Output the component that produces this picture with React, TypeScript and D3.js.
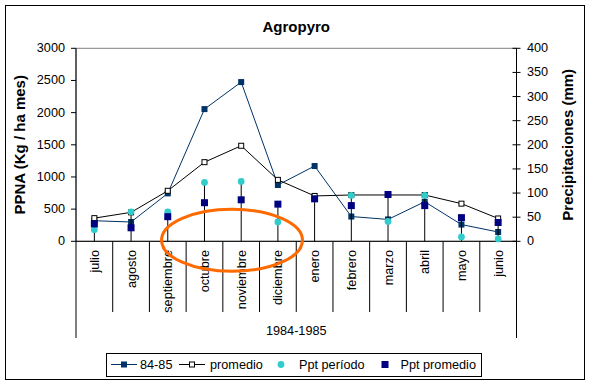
import React from 'react';
import * as d3 from 'd3';

const months = ['julio', 'agosto', 'septiembre', 'octubre', 'noviembre', 'diciembre', 'enero', 'febrero', 'marzo', 'abril', 'mayo', 'junio'];
const ppna8485 = [320, 300, 745, 2055, 2475, 875, 1170, 385, 340, 615, 260, 145];
const ppnaPromedio = [360, 450, 785, 1230, 1485, 955, 705, 720, 720, 720, 585, 355];
const pptPeriodo = [24, 61, 61, 122, 124, 40, 88, 95, 41, 95, 9, 5];
const pptPromedio = [36, 28, 51, 80, 86, 77, 88, 74, 97, 74, 49, 39];
const leftTicks = [0, 500, 1000, 1500, 2000, 2500, 3000];
const rightTicks = [0, 50, 100, 150, 200, 250, 300, 350, 400];
const groupLabel = '1984-1985';

const W = 591;
const H = 386;
const font = "Arial, 'Liberation Sans', sans-serif";
const C8485 = '#003366';
const CPeriodo = '#33CCCC';
const CPromedio = '#000080';

const App = () => {
  const left = 76;
  const right = 516.5;
  const top = 48.3;
  const bottom = 241.3;

  const x = d3.scaleBand<string>().domain(months).range([left, right]).padding(0);
  const cx = (m: string) => (x(m) as number) + x.bandwidth() / 2;
  const yL = d3.scaleLinear().domain([0, 3000]).range([bottom, top]);
  const yR = d3.scaleLinear().domain([0, 400]).range([bottom, top]);

  const lineL = d3.line<number>().x((_, i) => cx(months[i])).y(d => yL(d));

  const sq = 6;

  // highlight ellipse around octubre-diciembre, sitting on the axis
  const ellCx = cx('noviembre') - x.bandwidth() * 0.25;
  const ellRx = x.bandwidth() * 1.92;

  return (
    <svg width={W} height={H} style={{ position: 'absolute', left: 0, top: 0, background: '#fff' }} fontFamily={font}>
      <rect x={0} y={0} width={W} height={H} fill="#fff" />
      <rect x={5.5} y={5.5} width={579} height={374} fill="none" stroke="#000" />

      <text x={(left + right) / 2} y={31.5} textAnchor="middle" fontWeight="bold" fontSize={15}>Agropyro</text>

      {/* plot area border */}
      <rect x={left} y={top} width={right - left} height={bottom - top} fill="none" stroke="#808080" />

      {/* left axis */}
      <line x1={left} x2={left} y1={top} y2={338} stroke="#000" />
      {leftTicks.map(t => (
        <g key={'l' + t}>
          <line x1={71} x2={left} y1={yL(t)} y2={yL(t)} stroke="#000" />
          <text x={65} y={yL(t)} textAnchor="end" dominantBaseline="central" fontSize={12.7}>{t}</text>
        </g>
      ))}
      <text transform={`translate(25,${(top + bottom) / 2}) rotate(-90)`} textAnchor="middle" fontWeight="bold" fontSize={15}>PPNA (Kg / ha mes)</text>

      {/* right axis */}
      <line x1={right} x2={right} y1={top} y2={338} stroke="#000" />
      {rightTicks.map(t => (
        <g key={'r' + t}>
          <line x1={right - 4} x2={right + 4} y1={yR(t)} y2={yR(t)} stroke="#000" />
          <text x={527} y={yR(t)} textAnchor="start" dominantBaseline="central" fontSize={12.7}>{t}</text>
        </g>
      ))}
      <text transform={`translate(573,${(top + bottom) / 2}) rotate(-90)`} textAnchor="middle" fontWeight="bold" fontSize={15}>Precipitaciones (mm)</text>

      {/* category axis */}
      <line x1={left} x2={right} y1={bottom} y2={bottom} stroke="#000" />
      {months.slice(1).map(m => (
        <line key={'s' + m} x1={x(m)} x2={x(m)} y1={bottom} y2={312} stroke="#000" />
      ))}
      {months.map(m => (
        <text key={'m' + m} transform={`translate(${cx(m) + 4.5},250) rotate(-90)`} textAnchor="end" fontSize={12.7}>{m}</text>
      ))}
      <text x={(left + right) / 2} y={335} textAnchor="middle" fontSize={12.7}>{groupLabel}</text>

      {/* primary series */}
      <path d={lineL(ppna8485) as string} fill="none" stroke={C8485} strokeWidth={1} />
      {ppna8485.map((v, i) => (
        <rect key={'a' + i} x={cx(months[i]) - sq / 2} y={yL(v) - sq / 2} width={sq} height={sq} fill={C8485} />
      ))}
      <path d={lineL(ppnaPromedio) as string} fill="none" stroke="#000" strokeWidth={1} />
      {ppnaPromedio.map((v, i) => (
        <rect key={'b' + i} x={cx(months[i]) - sq / 2 + 0.5} y={yL(v) - sq / 2 + 0.5} width={sq - 1} height={sq - 1} fill="#fff" stroke="#000" />
      ))}

      {/* drop lines for precipitation */}
      {months.map((m, i) => (
        <line key={'d' + m} x1={cx(m)} x2={cx(m)} y1={yR(Math.max(pptPeriodo[i], pptPromedio[i]))} y2={bottom} stroke="#000" />
      ))}
      {pptPeriodo.map((v, i) => (
        <circle key={'c' + i} cx={cx(months[i])} cy={yR(v)} r={3.4} fill={CPeriodo} />
      ))}
      {pptPromedio.map((v, i) => (
        <rect key={'p' + i} x={cx(months[i]) - 3.5} y={yR(v) - 3.5} width={7} height={7} fill={CPromedio} />
      ))}

      {/* highlight */}
      <ellipse cx={ellCx} cy={yL(0) - 1} rx={ellRx} ry={31} fill="none" stroke="#FF6A00" strokeWidth={3} />

      {/* legend */}
      <rect x={106.5} y={353.5} width={375} height={23} fill="none" stroke="#000" />
      <g fontSize={12.7}>
        <line x1={111} x2={137} y1={364.5} y2={364.5} stroke={C8485} />
        <rect x={121} y={361.5} width={sq} height={sq} fill={C8485} />
        <text x={140} y={364.5} dominantBaseline="central">84-85</text>
        <line x1={179} x2={205} y1={364.5} y2={364.5} stroke="#000" />
        <rect x={189.5} y={362} width={sq - 1} height={sq - 1} fill="#fff" stroke="#000" />
        <text x={210} y={364.5} dominantBaseline="central">promedio</text>
        <circle cx={281} cy={364.5} r={3.4} fill={CPeriodo} />
        <text x={299} y={364.5} dominantBaseline="central">Ppt período</text>
        <rect x={381.5} y={361} width={7} height={7} fill={CPromedio} />
        <text x={400.5} y={364.5} dominantBaseline="central">Ppt promedio</text>
      </g>
    </svg>
  );
};

export default App;
